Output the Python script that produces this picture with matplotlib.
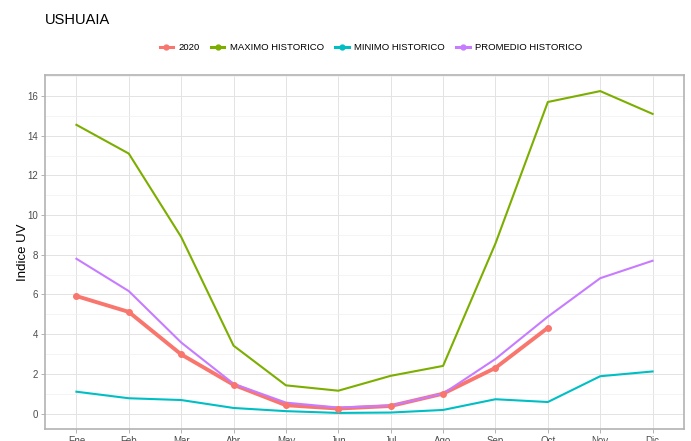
import matplotlib.pyplot as plt
from matplotlib.ticker import MultipleLocator

plt.rcParams['font.family'] = ['Liberation Sans', 'DejaVu Sans']

meses = ["Ene", "Feb", "Mar", "Abr", "May", "Jun", "Jul", "Ago", "Sep", "Oct", "Nov", "Dic"]
uv_2020 = [5.92, 5.12, 2.98, 1.45, 0.42, 0.25, 0.38, 1.0, 2.3, 4.32]
uv_maximo = [14.55, 13.1, 8.9, 3.42, 1.42, 1.15, 1.9, 2.4, 8.57, 15.7, 16.25, 15.1]
uv_minimo = [1.1, 0.77, 0.68, 0.28, 0.12, 0.03, 0.05, 0.18, 0.72, 0.58, 1.88, 2.12]
uv_promedio = [7.8, 6.17, 3.58, 1.5, 0.55, 0.3, 0.4, 1.0, 2.75, 4.88, 6.82, 7.7]

series = [
    ("2020", uv_2020, "#F8766D", 2.8),
    ("MAXIMO HISTORICO", uv_maximo, "#7CAE00", 1.5),
    ("MINIMO HISTORICO", uv_minimo, "#00BFC4", 1.5),
    ("PROMEDIO HISTORICO", uv_promedio, "#C77CFF", 1.5),
]

fig = plt.figure(figsize=(6.91, 4.41), dpi=100, facecolor="white")
ax = fig.add_axes([0.0651, 0.0272, 0.9248, 0.8027])

x = list(range(len(meses)))
for nombre, valores, color, lw in series:
    ax.plot(x[:len(valores)], valores, color=color, lw=lw, zorder=3)
# solo la serie 2020 lleva puntos
ax.plot(x[:len(uv_2020)], uv_2020, "o", color="#F8766D", ms=4, zorder=4)

handles = [plt.Line2D([], [], color=c, lw=2.2, marker="o", ms=3.5) for _, _, c, _ in series]
fig.legend(handles, [s[0] for s in series], loc="center", bbox_to_anchor=(371 / 691, 1 - 48 / 441),
           ncol=4, frameon=False, fontsize=6.8, handlelength=1.4, handletextpad=0.6,
           columnspacing=1.2)

ax.set_xlim(-0.6, 11.6)
ax.set_ylim(-0.78, 17.06)
ax.set_xticks(x)
ax.set_xticklabels(meses)
ax.yaxis.set_major_locator(MultipleLocator(2))
ax.yaxis.set_minor_locator(MultipleLocator(1))
ax.grid(True, which="major", color="#E3E3E3", lw=0.7, zorder=0)
ax.grid(True, which="minor", axis="y", color="#F0F0F0", lw=0.5, zorder=0)
ax.tick_params(which="major", length=3, width=0.7, color="#B3B3B3", labelsize=7,
               labelcolor="#4D4D4D", pad=2)
ax.tick_params(which="minor", length=0)
for s in ax.spines.values():
    s.set_color("#B3B3B3")
    s.set_linewidth(1.2)

ax.set_ylabel("Indice UV", fontsize=9.5, labelpad=-1)
fig.text(45 / 691, 1 - 20 / 441, "USHUAIA", fontsize=10.5, va="center", ha="left")

fig.savefig("out.png", dpi=100)
